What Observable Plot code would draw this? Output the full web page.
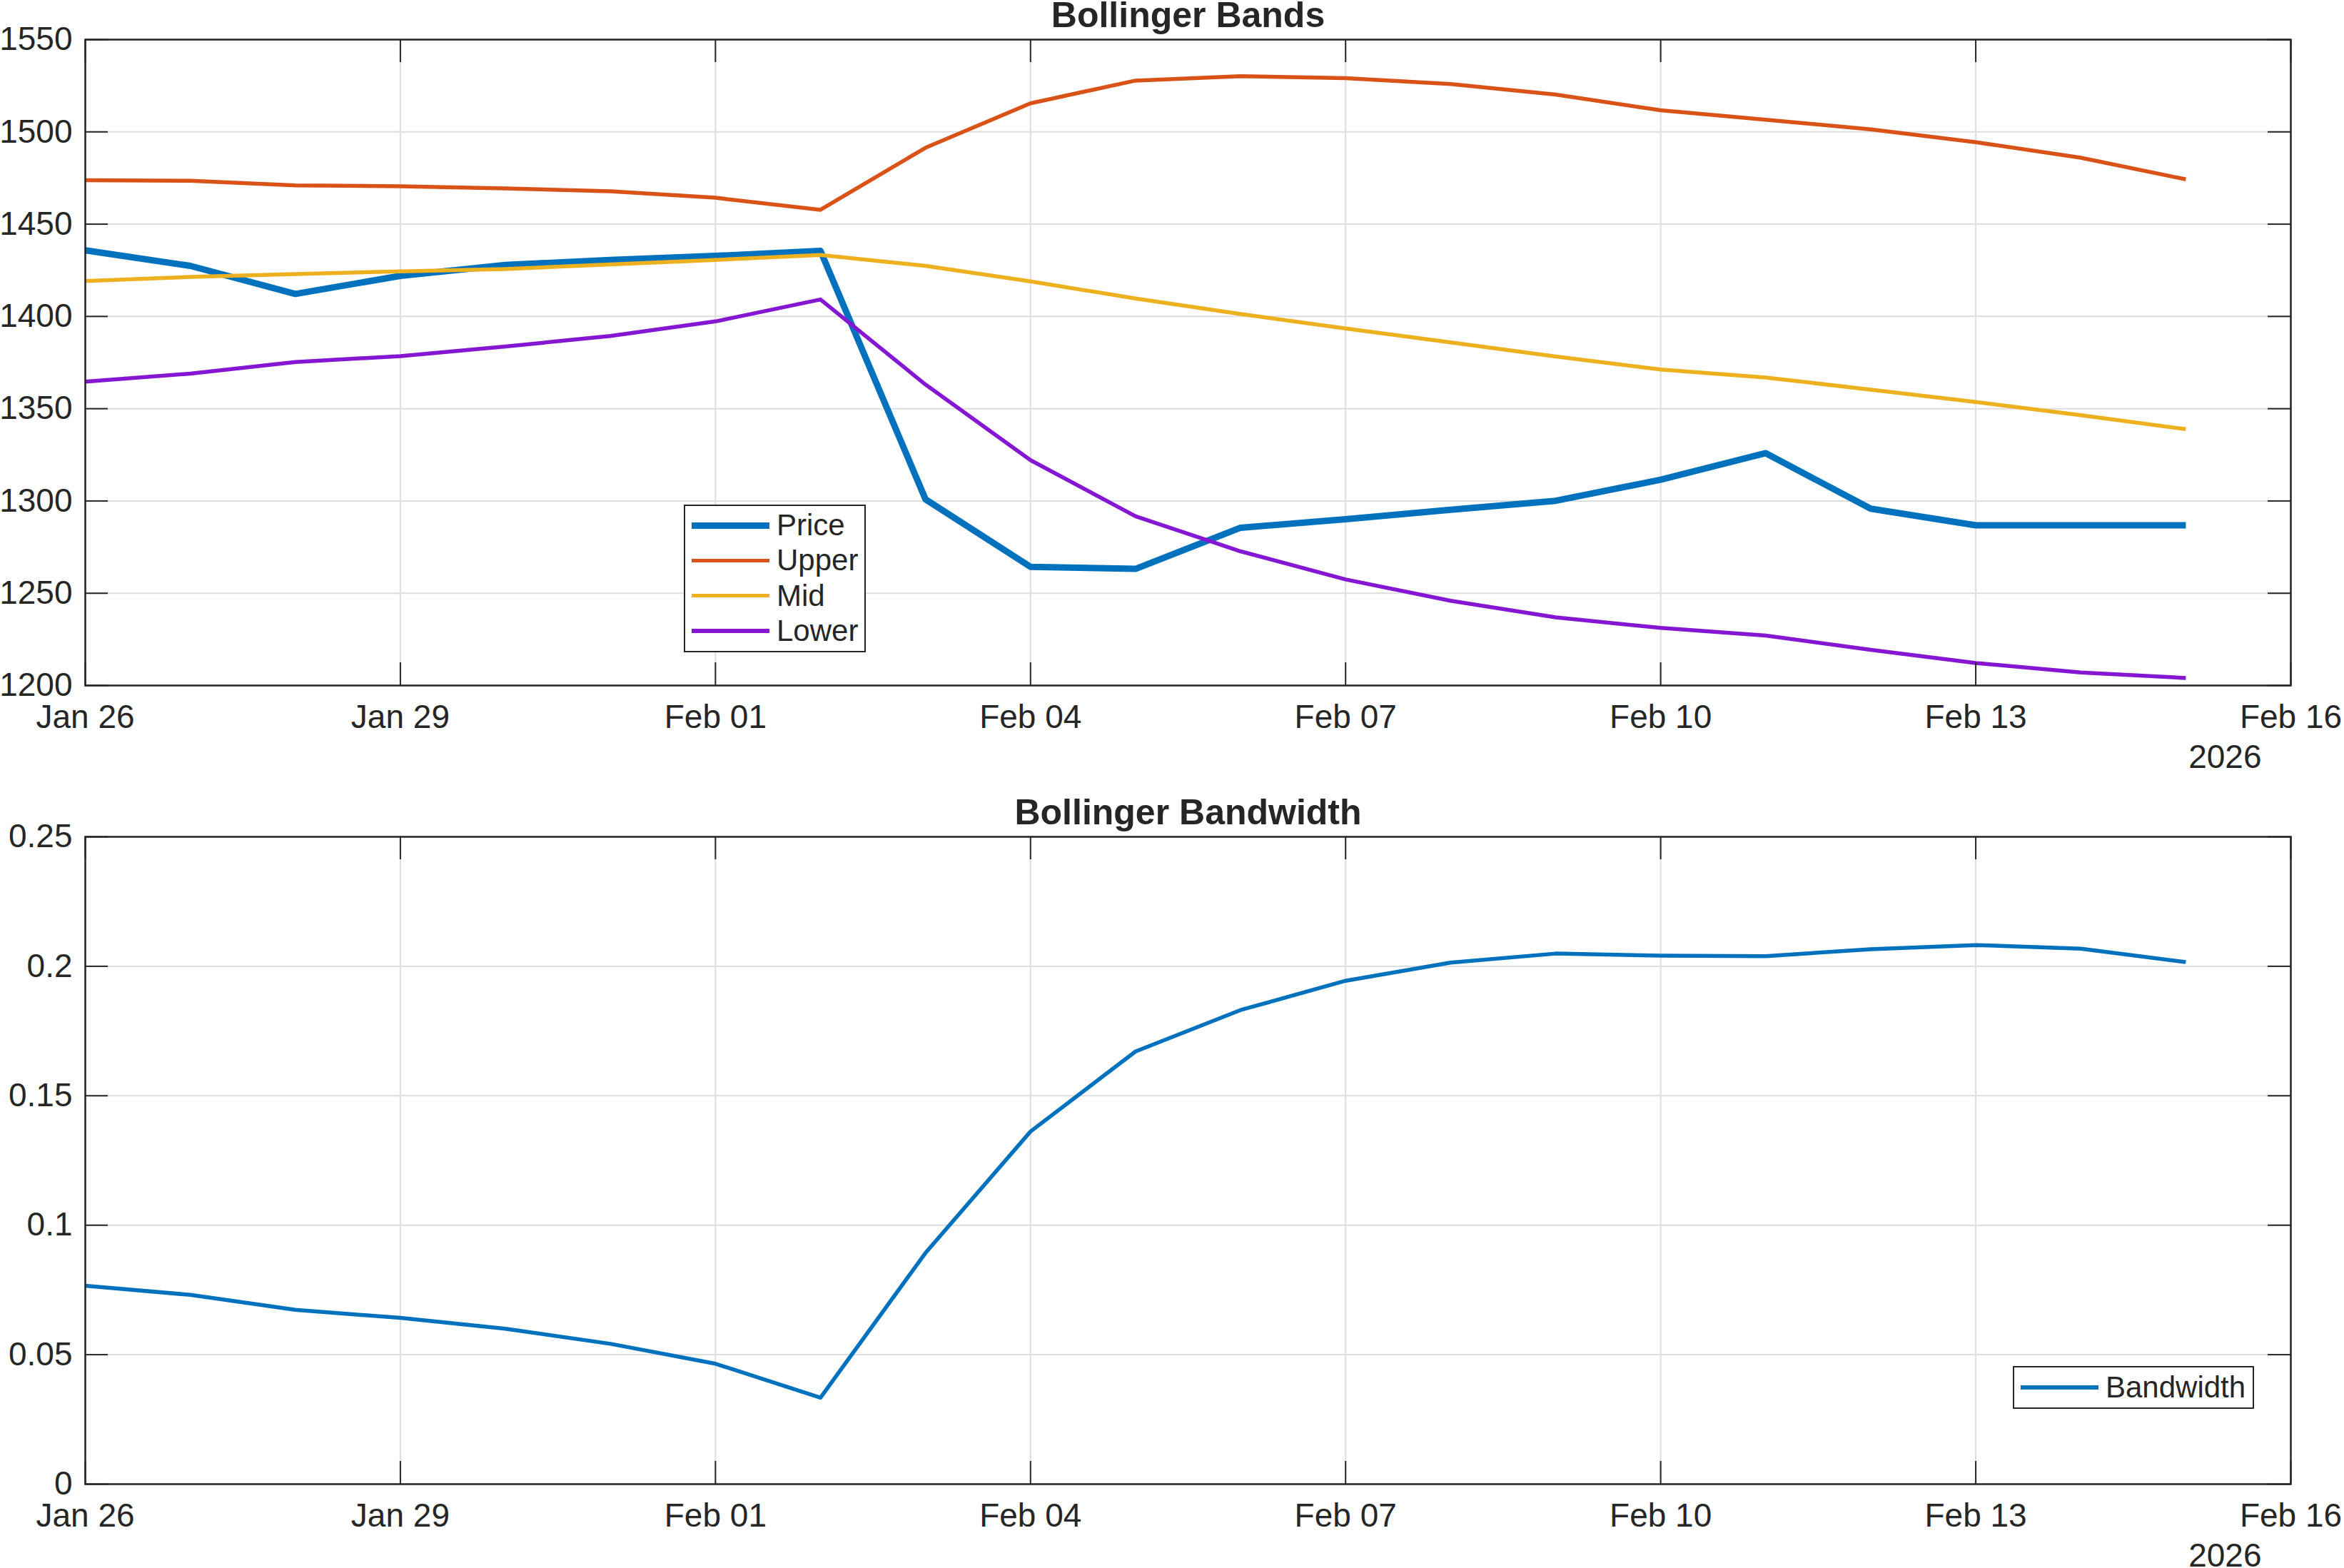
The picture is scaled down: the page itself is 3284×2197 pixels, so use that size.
<!DOCTYPE html>
<html>
<head>
<meta charset="utf-8">
<script src="https://cdn.jsdelivr.net/npm/d3@7"></script>
<script src="https://cdn.jsdelivr.net/npm/@observablehq/plot@0.6"></script>
<style>
  html, body { margin: 0; padding: 0; background: #fff; }
  #root { position: relative; width: 3284px; height: 2197px; overflow: hidden;
          font-family: "Liberation Sans", Arial, sans-serif; color: #262626; background: #fff; }
  .panel { position: absolute; left: 0; }
  .panel svg { overflow: visible; }
  .legend { position: absolute; background: #fff; border: 2px solid #262626; box-sizing: border-box; }
  .lg-line { position: absolute; }
  .lg-text { position: absolute; font-size: 42px; line-height: 42px; white-space: nowrap; color: #262626; }
</style>
</head>
<body>
<div id="root">
  <div class="panel" id="top" style="top:0px"></div>
  <div class="panel" id="bottom" style="top:1100px"></div>
</div>
<script>
// ---------------- data ----------------
const dates = ["2026-01-26","2026-01-27","2026-01-28","2026-01-29","2026-01-30","2026-01-31",
               "2026-02-01","2026-02-02","2026-02-03","2026-02-04","2026-02-05","2026-02-06",
               "2026-02-07","2026-02-08","2026-02-09","2026-02-10","2026-02-11","2026-02-12",
               "2026-02-13","2026-02-14","2026-02-15"];
const price = [1435.8,1427.4,1412.2,1422.0,1427.9,1430.6,1432.8,1435.5,1300.9,1264.3,1263.2,
               1285.5,1290.1,1295.2,1300.1,1311.5,1325.9,1295.8,1286.8,1286.8,1286.8];
const upper = [1473.8,1473.5,1471.0,1470.5,1469.4,1467.8,1464.3,1457.8,1491.4,1515.5,1527.8,
               1530.2,1529.1,1525.9,1520.2,1511.7,1506.6,1501.4,1494.4,1486.0,1474.3];
const mid   = [1419.2,1421.4,1423.0,1424.4,1425.7,1428.2,1430.6,1433.3,1427.4,1419.0,1409.7,
               1401.3,1393.5,1385.9,1378.3,1371.2,1366.9,1360.3,1353.6,1346.5,1338.9];
const lower = [1364.7,1369.0,1375.3,1378.5,1383.7,1389.4,1397.3,1409.2,1363.1,1322.1,1291.7,
               1272.7,1257.5,1245.9,1236.9,1231.2,1227.1,1219.3,1212.2,1207.1,1204.1];
const bandwidth = [0.0766,0.0731,0.0673,0.0642,0.0600,0.0542,0.0465,0.0334,0.0893,0.1362,0.1671,
                   0.1831,0.1944,0.2014,0.2049,0.2041,0.2039,0.2066,0.2082,0.2068,0.2016];

const xTickLabels = ["2026-01-26","2026-01-29","2026-02-01","2026-02-04","2026-02-07","2026-02-10","2026-02-13","2026-02-16"];
const xDomain = ["2026-01-26","2026-02-16"];
const yTicksBands = [1200,1250,1300,1350,1400,1450,1500,1550];
const yTicksBW = [0,0.05,0.1,0.15,0.2,0.25];
const yearLabel = "2026";
const titles = ["Bollinger Bands","Bollinger Bandwidth"];
const bandNames = ["Price","Upper","Mid","Lower"];
const bwNames = ["Bandwidth"];

// ---------------- styles ----------------
const colors = {Price:"#0072BD", Upper:"#D95319", Mid:"#EDB120", Lower:"#8516D2", Bandwidth:"#0072BD"};
const widths = {Price:9, Upper:5.5, Mid:5.5, Lower:5.5, Bandwidth:5.5};
const INK = "#262626", GRID = "#dedede", FONT = "Liberation Sans, Arial, sans-serif";
const W = 3284, TICKLEN = 32;

const X = dates.map(s => new Date(s + "T00:00:00Z"));
const XT = xTickLabels.map(s => new Date(s + "T00:00:00Z"));
const XD = xDomain.map(s => new Date(s + "T00:00:00Z"));
const fmt = d3.utcFormat("%b %d");

function panel({height, mt, mb, ml, mr, yDomain, yTicks, series, title}) {
  const innerW = W - ml - mr, innerH = height - mt - mb;
  return Plot.plot({
    width: W, height,
    marginTop: mt, marginBottom: mb, marginLeft: ml, marginRight: mr,
    style: {fontFamily: FONT, fontSize: "46px", color: INK, background: "#fff"},
    x: {type: "utc", domain: XD},
    y: {domain: yDomain},
    marks: [
      Plot.gridX(XT, {stroke: GRID, strokeOpacity: 1, strokeWidth: 2}),
      Plot.gridY(yTicks, {stroke: GRID, strokeOpacity: 1, strokeWidth: 2}),
      ...series.map(s => Plot.line(s.values, {x: X, y: d => d, stroke: colors[s.name],
                         strokeWidth: widths[s.name], strokeLinejoin: "round", strokeLinecap: "butt"})),
      // inward ticks (bottom, top, left, right)
      Plot.tickX(XT, {x: d => d, insetTop: innerH - TICKLEN, stroke: INK, strokeWidth: 2}),
      Plot.tickX(XT, {x: d => d, insetBottom: innerH - TICKLEN, stroke: INK, strokeWidth: 2}),
      Plot.tickY(yTicks, {y: d => d, insetRight: innerW - TICKLEN, stroke: INK, strokeWidth: 2}),
      Plot.tickY(yTicks, {y: d => d, insetLeft: innerW - TICKLEN, stroke: INK, strokeWidth: 2}),
      Plot.frame({stroke: INK, strokeWidth: 2.5}),
      Plot.axisX(XT, {tickSize: 0, tickPadding: 27, tickFormat: fmt, label: null, fontSize: 46, fill: INK}),
      Plot.axisY(yTicks, {tickSize: 0, tickPadding: 18, tickFormat: d => String(d), label: null, fontSize: 46, fill: INK}),
      Plot.text([title], {frameAnchor: "top", lineAnchor: "middle", dy: -34, fontSize: 50, fontWeight: "bold", fill: INK}),
      Plot.text([yearLabel], {frameAnchor: "bottom-right", lineAnchor: "middle", textAnchor: "end", dx: -41, dy: 101, fontSize: 46, fill: INK})
    ]
  });
}

document.getElementById("top").append(panel({
  height: 1100, mt: 55, mb: 140, ml: 119, mr: 75,
  yDomain: [1200, 1550], yTicks: yTicksBands, title: titles[0],
  series: [{name: "Price", values: price}, {name: "Upper", values: upper},
           {name: "Mid", values: mid}, {name: "Lower", values: lower}]
}));
document.getElementById("bottom").append(panel({
  height: 1097, mt: 72, mb: 118, ml: 119, mr: 75,
  yDomain: [0, 0.25], yTicks: yTicksBW, title: titles[1],
  series: [{name: "Bandwidth", values: bandwidth}]
}));

// ---------------- legends (HTML overlays) ----------------
function legend({left, top, width, height, names, firstCenter, step}) {
  const box = document.createElement("div");
  box.className = "legend";
  Object.assign(box.style, {left: left + "px", top: top + "px", width: width + "px", height: height + "px"});
  names.forEach((n, i) => {
    const cy = firstCenter + i * step;
    const ln = document.createElement("div");
    ln.className = "lg-line";
    const sw = widths[n];
    Object.assign(ln.style, {left: "9px", width: "109px", top: (cy - sw / 2) + "px", height: sw + "px", background: colors[n]});
    const tx = document.createElement("div");
    tx.className = "lg-text";
    tx.textContent = n;
    Object.assign(tx.style, {left: "128px", top: (cy - 21) + "px"});
    box.append(ln, tx);
  });
  document.getElementById("root").append(box);
}
legend({left: 958, top: 707, width: 255, height: 207, names: bandNames, firstCenter: 27, step: 49.3});
legend({left: 2820, top: 1914, width: 338, height: 60, names: bwNames, firstCenter: 28, step: 0});
</script>
</body>
</html>
